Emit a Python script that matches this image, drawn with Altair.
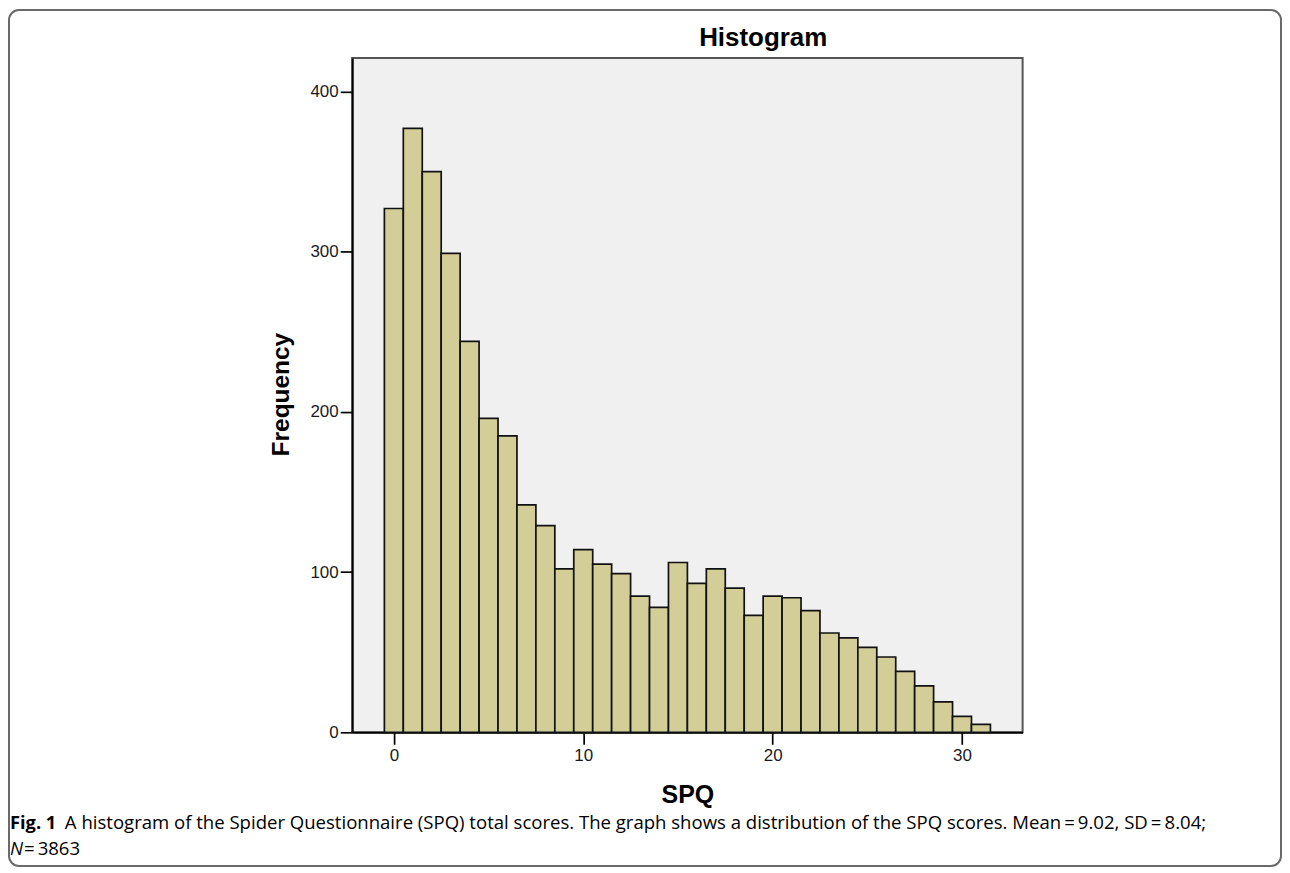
import altair as alt
import pandas as pd

# ---- data ----
scores = list(range(32))
freq = [327, 377, 350, 299, 244, 196, 185, 142, 129, 102, 114, 105, 99, 85, 78, 106,
        93, 102, 90, 73, 85, 84, 76, 62, 59, 53, 47, 38, 29, 19, 10, 5]
x_ticks = [0, 10, 20, 30]
y_ticks = [0, 100, 200, 300, 400]

chart_title = "Histogram"
x_title = "SPQ"
y_title = "Frequency"
cap_bold = "Fig. 1"
cap_line1 = ("A histogram of the Spider Questionnaire (SPQ) total scores. The graph shows a "
             "distribution of the SPQ scores. Mean\u2009=\u20099.02, SD\u2009=\u20098.04;")
cap_n = "N"
cap_line2 = "\u2009=\u20093863"

W, H = 672, 676
AX_FONT = "Liberation Sans"
CAP_FONT = "Open Sans"

df = pd.DataFrame({"score": scores, "freq": freq})

bars = alt.Chart(df).transform_calculate(
    lo="datum.score - 0.5", hi="datum.score + 0.5"
).mark_rect(fill="#D3CE97", stroke="#111111", strokeWidth=1.7).encode(
    x=alt.X("lo:Q",
            scale=alt.Scale(domain=[-2.2, 33.2], nice=False, zero=False),
            axis=alt.Axis(values=x_ticks, title=x_title, grid=False,
                          titleY=70.5, titleBaseline="alphabetic",
                          titleFont=AX_FONT, titleFontSize=25, titleFontWeight="bold",
                          titleColor="#000000",
                          labelPadding=3)),
    x2="hi:Q",
    y=alt.Y("freq:Q",
            scale=alt.Scale(domain=[0, 421], nice=False),
            axis=alt.Axis(values=y_ticks, title=y_title, grid=False,
                          titleAngle=270, titleX=-63.7, titleY=337,
                          titleBaseline="alphabetic", titleAlign="center",
                          titleFont=AX_FONT, titleFontSize=24.5, titleFontWeight="bold",
                          titleColor="#000000",
                          labelPadding=2)),
    y2=alt.datum(0),
)

def text_layer(txt, x, y, font, size, weight="normal", style="normal", align="left"):
    return alt.Chart(pd.DataFrame({"t": [txt]})).mark_text(
        font=font, fontSize=size, fontWeight=weight, fontStyle=style,
        align=align, baseline="alphabetic", color="#000000",
    ).encode(text="t:N", x=alt.value(x), y=alt.value(y))

title_layer = text_layer(chart_title, 412, -12, AX_FONT, 26, weight="bold", align="center")
cap1b = text_layer(cap_bold, -343, 773, CAP_FONT, 18.3, weight="bold")
cap1 = text_layer(cap_line1, -288, 773, CAP_FONT, 18.6)
cap2n = text_layer(cap_n, -343, 799, CAP_FONT, 18.6, style="italic")
cap2 = text_layer(cap_line2, -329, 799, CAP_FONT, 18.6)

frame = alt.Chart(pd.DataFrame({"f": [0]})).mark_rect(
    filled=False, stroke="#6a6a6a", strokeWidth=2, cornerRadius=10
).encode(x=alt.value(-344), x2=alt.value(931), y=alt.value(-48), y2=alt.value(810))

chart = alt.layer(bars, title_layer, cap1b, cap1, cap2n, cap2, frame).properties(
    width=W, height=H, padding=0, background="#ffffff"
).configure_view(
    fill="#F0F0F0", stroke="#555555", strokeWidth=2
).configure_axis(
    labelFont=AX_FONT, labelFontSize=17, labelColor="#1a1a1a",
    tickSize=12, tickWidth=1.7, tickColor="#000000",
    domainColor="#000000", domainWidth=2,
)

chart.save("out.html", embed_options={"renderer": "svg", "actions": False})
